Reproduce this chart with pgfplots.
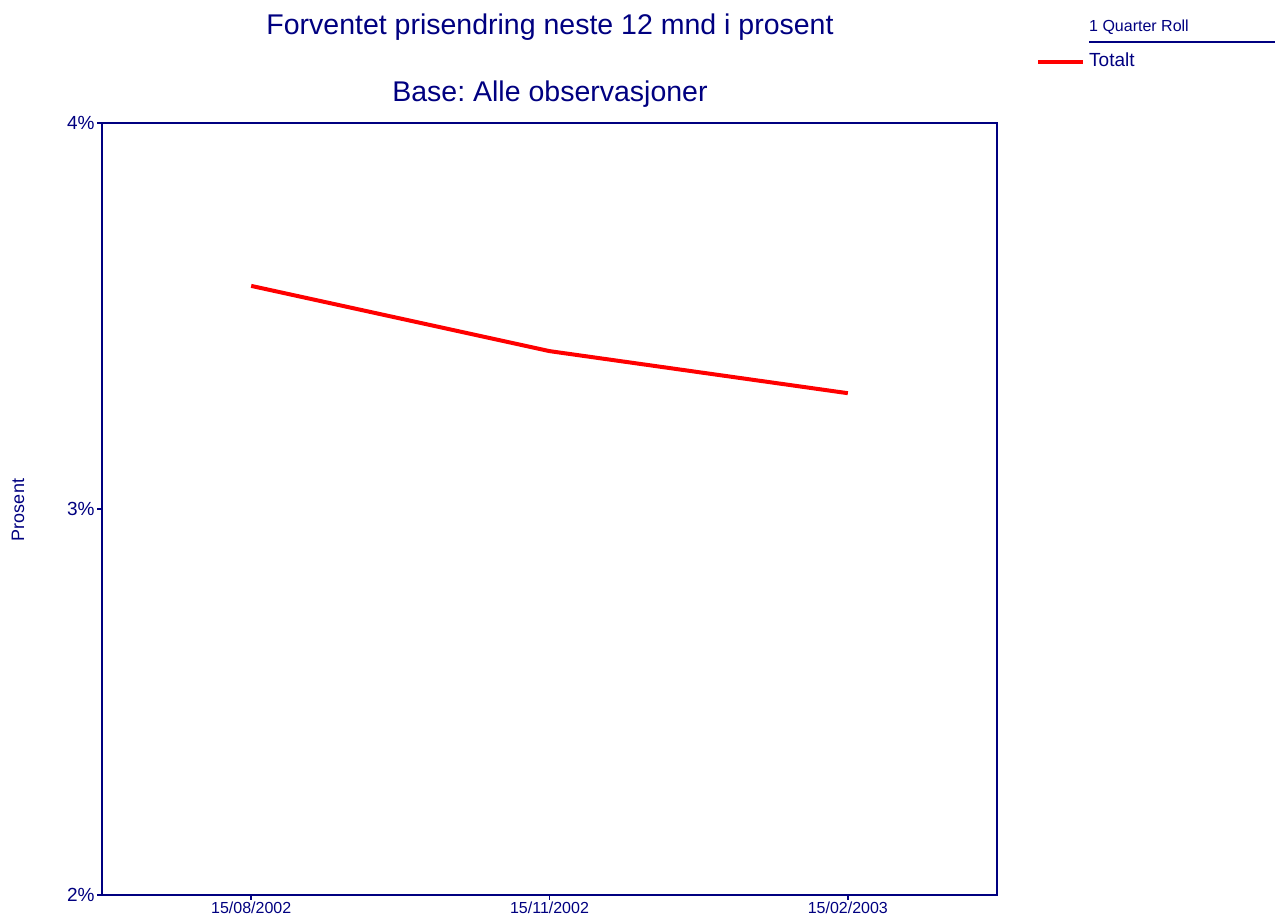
\documentclass[border=0pt]{standalone}
\usepackage{fontspec}
\setmainfont{Liberation Sans}
\usepackage{pgfplots}
\pgfplotsset{compat=1.18}
\definecolor{navy}{RGB}{0,0,128}
\definecolor{linered}{RGB}{255,0,0}
\frenchspacing
\begin{document}
\begin{tikzpicture}[x=1pt,y=1pt]
\path[use as bounding box] (0,0) rectangle (1275,918);
\begin{axis}[
    at={(102pt,23pt)}, anchor=south west,
    scale only axis,
    width=895pt, height=772pt,
    xmin=-0.5, xmax=2.5,
    ymin=2, ymax=4,
    xtick={0,1,2},
    xticklabels={15/08/2002,15/11/2002,15/02/2003},
    ytick={2,3,4},
    yticklabels={2\%,3\%,4\%},
    axis line style={navy, line width=2pt},
    tick style={navy, line width=1.5pt},
    major tick length=5pt,
    tick align=outside,
    xtick pos=bottom, ytick pos=left,
    xticklabel style={font=\fontsize{16}{18}\selectfont, text=navy, yshift=2pt},
    yticklabel style={font=\fontsize{19}{22}\selectfont, text=navy, xshift=1pt},
    /pgf/number format/assume math mode=true,
]
\addplot[linered, line width=4pt] coordinates {(0,3.578) (1,3.409) (2,3.300)};
\end{axis}
\node[navy, font=\fontsize{28.5}{32}\selectfont] at (550,891) {Forventet prisendring neste 12 mnd i prosent};
\node[navy, font=\fontsize{28.5}{32}\selectfont] at (550,824) {Base: Alle observasjoner};
\node[navy, rotate=90, font=\fontsize{18}{20}\selectfont] at (18,408) {Prosent};
\node[navy, anchor=west, inner sep=0pt, font=\fontsize{16}{18}\selectfont] at (1089,891) {1 Quarter Roll};
\draw[navy, line width=1.5pt] (1089,876) -- (1275,876);
\draw[linered, line width=4pt] (1038,856) -- (1083,856);
\node[navy, anchor=west, inner sep=0pt, font=\fontsize{19}{22}\selectfont] at (1089,858) {Totalt};
\end{tikzpicture}
\end{document}
